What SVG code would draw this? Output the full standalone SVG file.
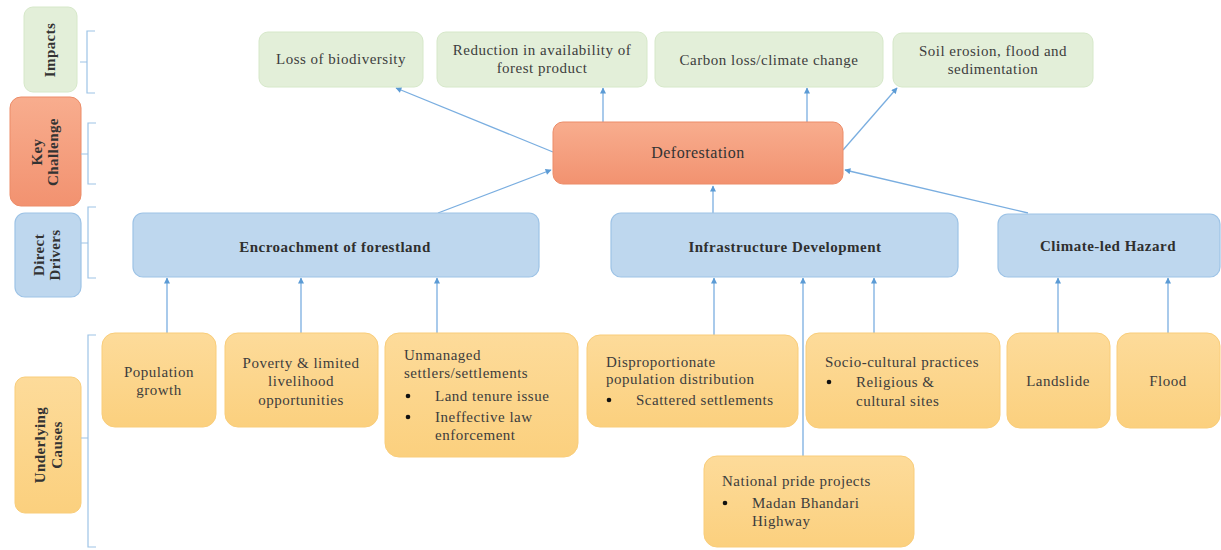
<svg xmlns="http://www.w3.org/2000/svg" width="1221" height="550" viewBox="0 0 1221 550">
<defs>
<linearGradient id="gOr" x1="0" y1="0" x2="0" y2="1"><stop offset="0" stop-color="#f8ad8e"/><stop offset="1" stop-color="#f29270"/></linearGradient>
<linearGradient id="gYe" x1="0" y1="0" x2="0" y2="1"><stop offset="0" stop-color="#fddb9a"/><stop offset="1" stop-color="#fbd07e"/></linearGradient>
<marker id="ah" viewBox="0 0 10 10" refX="9" refY="5" markerWidth="7" markerHeight="6" orient="auto" markerUnits="userSpaceOnUse"><path d="M0,0 L10,5 L0,10 z" fill="#5b9bd5"/></marker>
<style>
.imp{fill:#e3efd9;stroke:#d6e8c9;stroke-width:1}
.key{fill:url(#gOr);stroke:#ec8c68;stroke-width:1}
.drv{fill:#bed7ee;stroke:#9dc3e6;stroke-width:1.2}
.cau{fill:url(#gYe);stroke:#f9cd7a;stroke-width:1}
.t{font-family:"Liberation Serif","DejaVu Serif",serif;font-size:15px;letter-spacing:0.5px;fill:#3d3d3d}
.c{text-anchor:middle}
.b{font-weight:bold;fill:#2f2f2f}
.lab{font-family:"Liberation Serif","DejaVu Serif",serif;font-size:15px;letter-spacing:0.4px;font-weight:bold;fill:#333;text-anchor:middle}
.br{fill:none;stroke:#9dc3e6;stroke-width:1.2}
.cn{fill:none;stroke:#7aaee0;stroke-width:1.3}
.bul{fill:#111}
</style>
</defs>
<rect width="1221" height="550" fill="#ffffff"/>

<!-- Left category labels -->
<g id="lab-impacts"><rect x="24" y="7" width="53" height="85" rx="9" class="imp"/><text class="lab" transform="translate(55,50) rotate(-90)">Impacts</text></g>
<g id="lab-key"><rect x="10" y="97" width="71" height="109" rx="11" class="key"/><text class="lab" transform="translate(42,152) rotate(-90)">Key</text><text class="lab" transform="translate(58,152) rotate(-90)">Challenge</text></g>
<g id="lab-direct"><rect x="15" y="213" width="66" height="84" rx="10" class="drv"/><text class="lab" transform="translate(44,255) rotate(-90)">Direct</text><text class="lab" transform="translate(60,255) rotate(-90)">Drivers</text></g>
<g id="lab-under"><rect x="15" y="377" width="66" height="136" rx="10" class="cau"/><text class="lab" transform="translate(45,445) rotate(-90)">Underlying</text><text class="lab" transform="translate(62,445) rotate(-90)">Causes</text></g>

<!-- Brackets -->
<g id="brackets">
<path class="br" d="M95,31 H87 V93 H95 M87,62 H80"/>
<path class="br" d="M96,123 H88 V184 H96 M88,154 H81"/>
<path class="br" d="M96,207 H88 V278 H96 M88,243 H81"/>
<path class="br" d="M96,335 H88 V547 H96 M88,438 H81"/>
</g>

<!-- Connectors -->
<g id="connectors">
<line class="cn" x1="553" y1="152" x2="396" y2="88" marker-end="url(#ah)"/>
<line class="cn" x1="603" y1="122" x2="603" y2="88" marker-end="url(#ah)"/>
<line class="cn" x1="807" y1="122" x2="807" y2="88" marker-end="url(#ah)"/>
<line class="cn" x1="843" y1="150" x2="897" y2="88" marker-end="url(#ah)"/>
<line class="cn" x1="438" y1="213" x2="551" y2="170" marker-end="url(#ah)"/>
<line class="cn" x1="713" y1="213" x2="713" y2="186" marker-end="url(#ah)"/>
<line class="cn" x1="1028" y1="213" x2="845" y2="170" marker-end="url(#ah)"/>
<line class="cn" x1="167" y1="333" x2="167" y2="278" marker-end="url(#ah)"/>
<line class="cn" x1="301" y1="333" x2="301" y2="278" marker-end="url(#ah)"/>
<line class="cn" x1="437" y1="333" x2="437" y2="278" marker-end="url(#ah)"/>
<line class="cn" x1="714" y1="335" x2="714" y2="278" marker-end="url(#ah)"/>
<line class="cn" x1="803" y1="456" x2="803" y2="278" marker-end="url(#ah)"/>
<line class="cn" x1="874" y1="333" x2="874" y2="278" marker-end="url(#ah)"/>
<line class="cn" x1="1058" y1="333" x2="1058" y2="278" marker-end="url(#ah)"/>
<line class="cn" x1="1168" y1="333" x2="1168" y2="278" marker-end="url(#ah)"/>
</g>

<!-- Impacts -->
<g id="imp-biodiversity"><rect x="259" y="32" width="164" height="55" rx="9" class="imp"/><text class="t c" x="341" y="64">Loss of biodiversity</text></g>
<g id="imp-forest-product"><rect x="437" y="32" width="210" height="55" rx="9" class="imp"/><text class="t c" x="542" y="55">Reduction in availability of</text><text class="t c" x="542" y="73">forest product</text></g>
<g id="imp-carbon"><rect x="655" y="32" width="228" height="55" rx="9" class="imp"/><text class="t c" x="769" y="65">Carbon loss/climate change</text></g>
<g id="imp-soil"><rect x="893" y="33" width="200" height="54" rx="9" class="imp"/><text class="t c" x="993" y="56">Soil erosion, flood and</text><text class="t c" x="993" y="74">sedimentation</text></g>

<!-- Key challenge -->
<g id="deforestation"><rect x="553" y="122" width="290" height="62" rx="10" class="key"/><text class="t c" x="698" y="158" style="font-size:16px;fill:#333">Deforestation</text></g>

<!-- Direct drivers -->
<g id="drv-encroachment"><rect x="133" y="213" width="406" height="64" rx="10" class="drv"/><text class="t c b" x="335" y="252">Encroachment of forestland</text></g>
<g id="drv-infrastructure"><rect x="611" y="213" width="347" height="64" rx="10" class="drv"/><text class="t c b" x="785" y="252">Infrastructure Development</text></g>
<g id="drv-climate"><rect x="998" y="214" width="222" height="63" rx="10" class="drv"/><text class="t c b" x="1108" y="251">Climate-led Hazard</text></g>

<!-- Underlying causes -->
<g id="cau-population"><rect x="102" y="333" width="114" height="94" rx="13" class="cau"/><text class="t c" x="159" y="377">Population</text><text class="t c" x="159" y="395">growth</text></g>
<g id="cau-poverty"><rect x="225" y="333" width="153" height="94" rx="13" class="cau"/><text class="t c" x="301" y="368">Poverty &amp; limited</text><text class="t c" x="301" y="386">livelihood</text><text class="t c" x="301" y="405">opportunities</text></g>
<g id="cau-unmanaged"><rect x="385" y="333" width="193" height="124" rx="14" class="cau"/>
<text class="t" x="404" y="360">Unmanaged</text><text class="t" x="404" y="378">settlers/settlements</text>
<circle class="bul" cx="408" cy="396" r="2.3"/><text class="t" x="435" y="401">Land tenure issue</text>
<circle class="bul" cx="408" cy="417" r="2.3"/><text class="t" x="435" y="422">Ineffective law</text><text class="t" x="435" y="440">enforcement</text></g>
<g id="cau-disproportionate"><rect x="587" y="335" width="211" height="92" rx="13" class="cau"/>
<text class="t" x="606" y="367">Disproportionate</text><text class="t" x="606" y="384">population distribution</text>
<circle class="bul" cx="609" cy="400" r="2.3"/><text class="t" x="636" y="405">Scattered settlements</text></g>
<g id="cau-national"><rect x="704" y="456" width="210" height="91" rx="13" class="cau"/>
<text class="t" x="722" y="486">National pride projects</text>
<circle class="bul" cx="725" cy="503" r="2.3"/><text class="t" x="752" y="508">Madan Bhandari</text><text class="t" x="752" y="526">Highway</text></g>
<g id="cau-socio"><rect x="806" y="333" width="194" height="95" rx="13" class="cau"/>
<text class="t" x="825" y="367">Socio-cultural practices</text>
<circle class="bul" cx="829" cy="382" r="2.3"/><text class="t" x="856" y="387">Religious &amp;</text><text class="t" x="856" y="406">cultural sites</text></g>
<g id="cau-landslide"><rect x="1007" y="333" width="103" height="95" rx="13" class="cau"/><text class="t c" x="1058" y="386">Landslide</text></g>
<g id="cau-flood"><rect x="1117" y="333" width="103" height="95" rx="13" class="cau"/><text class="t c" x="1168" y="386">Flood</text></g>
</svg>
